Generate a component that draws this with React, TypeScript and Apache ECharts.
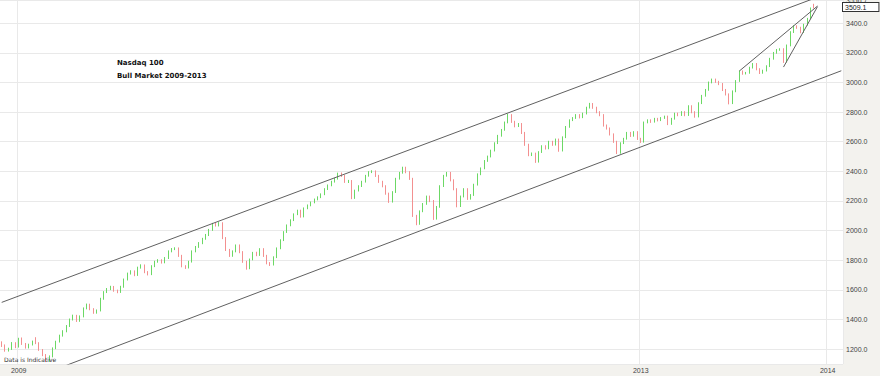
import React, { useEffect, useRef } from 'react';
import * as echarts from 'echarts';

// [open, close, low, high] per bar
const candlesA = [
  [1240,1225,1214,1252],[1225,1190,1182,1231],[1190,1200,1183,1209],[1200,1240,1194,1247],
  [1240,1215,1206,1246],[1215,1270,1210,1276],[1270,1235,1228,1278],[1235,1210,1203,1241],
  [1210,1230,1204,1236],[1230,1250,1224,1257],[1275,1240,1233,1280],[1240,1195,1188,1246],
  [1195,1160,1152,1200],[1160,1120,1112,1166],[1120,1150,1113,1157],[1150,1205,1144,1211],
  [1205,1250,1199,1256],[1250,1290,1244,1297],[1290,1320,1284,1327],[1320,1355,1313,1362],
  [1355,1400,1349,1406],[1400,1425,1393,1432],[1425,1390,1383,1431],[1390,1420,1384,1427],
  [1420,1475,1414,1481],[1475,1500,1468,1507],[1500,1470,1462,1506],[1470,1445,1438,1476],
  [1445,1460,1439,1467],[1460,1540,1454,1546],[1540,1585,1533,1591],[1585,1605,1578,1612],
  [1605,1620,1598,1627],[1620,1595,1587,1626],[1595,1585,1577,1601],[1585,1620,1579,1627],
  [1620,1670,1614,1676],[1670,1710,1663,1716],[1710,1725,1703,1732],[1725,1700,1692,1731],
  [1700,1750,1694,1756],[1750,1765,1743,1772],[1765,1720,1712,1771],[1720,1705,1697,1726],
  [1705,1760,1699,1766],[1760,1790,1753,1796],[1790,1800,1783,1807],[1800,1785,1777,1806],
  [1785,1815,1779,1821],[1815,1860,1808,1866],[1860,1875,1853,1882],[1875,1880,1868,1887],
  [1880,1830,1822,1886],[1830,1760,1752,1836],[1760,1750,1741,1766],[1750,1790,1744,1796],
  [1790,1860,1784,1866],[1860,1890,1853,1896],[1890,1915,1883,1922],[1915,1945,1908,1951],
  [1945,1970,1938,1977],[1970,2005,1963,2011],[2005,2045,1998,2052],
];
const candlesB = [
  [2045,2035,2027,2052],[2035,2050,2028,2057],[2050,1950,1942,2056],[1950,1870,1862,1956],
  [1870,1830,1822,1876],[1830,1860,1823,1866],[1860,1900,1853,1906],[1900,1855,1847,1906],
  [1855,1790,1782,1861],[1790,1745,1736,1796],[1745,1805,1739,1811],[1805,1850,1799,1856],
  [1850,1835,1827,1857],[1835,1875,1829,1881],[1875,1830,1822,1881],[1830,1780,1772,1836],
  [1780,1770,1761,1787],[1770,1820,1764,1826],[1820,1880,1814,1886],[1880,1935,1874,1941],
  [1935,1990,1929,1996],[1990,2035,1984,2041],[2035,2070,2029,2076],[2070,2110,2064,2116],
  [2110,2135,2104,2141],[2135,2095,2087,2141],[2095,2150,2089,2156],[2150,2170,2144,2176],
  [2170,2190,2164,2196],[2190,2210,2184,2216],[2210,2225,2204,2231],[2225,2245,2219,2251],
  [2245,2280,2239,2286],[2280,2305,2274,2311],[2305,2330,2299,2336],[2330,2350,2324,2356],
  [2350,2385,2344,2391],[2385,2370,2362,2392],[2370,2330,2322,2376],[2330,2335,2321,2342],
  [2335,2220,2212,2341],[2220,2270,2214,2276],[2270,2300,2264,2306],[2300,2330,2294,2336],
  [2330,2370,2324,2376],[2370,2395,2364,2401],[2395,2400,2388,2407],[2400,2370,2362,2406],
  [2370,2330,2322,2376],[2330,2300,2292,2336],[2300,2250,2242,2306],[2250,2195,2187,2256],
  [2195,2260,2189,2266],[2260,2350,2254,2356],[2350,2390,2344,2396],[2390,2425,2384,2431],
  [2425,2395,2387,2431],[2395,2350,2342,2401],[2350,2100,2092,2356],[2100,2045,2036,2106],
];
const candlesC = [
  [2045,2130,2039,2136],[2130,2180,2124,2186],[2180,2230,2174,2236],[2230,2200,2192,2236],
  [2200,2080,2072,2206],[2080,2160,2074,2166],[2160,2300,2154,2306],[2300,2370,2294,2376],
  [2370,2390,2364,2396],[2390,2340,2332,2396],[2340,2280,2272,2346],[2280,2165,2157,2286],
  [2165,2230,2159,2236],[2230,2280,2224,2286],[2280,2215,2207,2286],[2215,2240,2209,2246],
  [2240,2310,2234,2316],[2310,2380,2304,2386],[2380,2420,2374,2426],[2420,2470,2414,2476],
  [2470,2500,2464,2506],[2500,2540,2494,2546],[2540,2590,2534,2596],[2590,2640,2584,2646],
  [2640,2680,2634,2686],[2680,2730,2674,2736],[2730,2780,2724,2788],[2780,2735,2727,2786],
  [2735,2705,2697,2741],[2705,2720,2699,2726],[2720,2660,2652,2726],[2660,2580,2572,2666],
  [2580,2510,2502,2586],[2510,2520,2503,2527],[2520,2465,2457,2526],[2465,2530,2459,2536],
  [2530,2570,2524,2576],[2570,2555,2547,2576],[2555,2600,2549,2606],[2600,2580,2572,2606],
  [2580,2615,2574,2621],[2615,2540,2532,2621],[2540,2630,2534,2636],[2630,2700,2624,2706],
  [2700,2745,2694,2751],[2745,2760,2739,2766],[2760,2780,2754,2786],[2780,2765,2757,2786],
  [2765,2790,2759,2796],[2790,2830,2784,2836],[2830,2855,2824,2862],[2855,2830,2822,2861],
  [2830,2800,2792,2836],[2800,2780,2772,2806],[2780,2710,2702,2786],[2710,2690,2682,2716],
  [2690,2650,2642,2696],[2650,2600,2592,2656],[2600,2525,2517,2606],[2525,2590,2519,2596],
  [2590,2620,2584,2626],[2620,2660,2614,2666],[2660,2640,2632,2666],[2640,2665,2634,2671],
  [2665,2620,2612,2671],
];
const candlesD = [
  [2620,2600,2592,2626],[2600,2730,2594,2736],[2730,2745,2724,2751],[2745,2735,2727,2751],
  [2735,2755,2729,2761],[2755,2745,2737,2761],[2745,2760,2739,2766],[2760,2770,2754,2776],
  [2770,2720,2712,2776],[2720,2755,2714,2761],[2755,2790,2749,2796],[2790,2780,2772,2796],
  [2780,2800,2774,2806],[2800,2780,2772,2806],[2780,2840,2774,2846],[2840,2800,2792,2846],
  [2800,2770,2762,2806],[2770,2860,2764,2866],[2860,2910,2854,2916],[2910,2950,2904,2956],
  [2950,3000,2944,3006],[3000,3020,2994,3026],[3020,3005,2997,3026],[3005,2990,2982,3011],
  [2990,2950,2942,2996],[2950,2920,2912,2956],[2920,2860,2852,2926],[2860,2940,2854,2946],
  [2940,3010,2934,3016],[3010,3075,3004,3081],[3075,3060,3052,3081],[3060,3065,3054,3071],
  [3065,3100,3059,3106],[3100,3125,3094,3131],[3125,3090,3082,3131],[3090,3065,3057,3096],
  [3065,3080,3059,3086],[3080,3110,3074,3116],[3110,3160,3104,3166],[3160,3200,3154,3206],
  [3200,3220,3194,3226],[3220,3225,3214,3231],[3225,3140,3132,3231],[3140,3250,3134,3256],
  [3250,3340,3244,3346],[3340,3380,3334,3386],[3380,3370,3362,3386],[3370,3340,3332,3376],
  [3340,3390,3334,3396],[3390,3430,3384,3436],[3430,3500,3428,3506],[3525,3509.1,3500,3531],
];

const totalSlots = 248;
const yearTicks = [
  { index: 5, label: '2009' },
  { index: 188, label: '2013' },
  { index: 243, label: '2014' },
];
const upperChannel = [[0, 1515], [247, 3636]];
const lowerChannel = [[19, 1090], [247, 3079]];
const wedgeUpper = [[217, 3077], [240, 3516]];
const wedgeLower = [[230, 3104], [240, 3512]];
const lastPrice = 3509.1;
const axisMin = 1099;
const axisMax = 3556.7;
const titleLines = ['Nasdaq 100', 'Bull Market 2009-2013'];
const footNote = 'Data is Indicative';

const UP = '#6cd865';
const DOWN = '#f39090';
const GRID = '#e9e9e9';

export default function App() {
  const ref = useRef<HTMLDivElement>(null);
  useEffect(() => {
    if (!ref.current) return;
    const chart = echarts.init(ref.current, null, { renderer: 'svg' });
    const candles = [...candlesA, ...candlesB, ...candlesC, ...candlesD];
    const categories = Array.from({ length: totalSlots }, (_, i) => String(i));
    const tickSet = new Set(yearTicks.map((t) => t.index));
    const tickLabel = new Map(yearTicks.map((t) => [t.index, t.label]));
    const trend = (data: number[][]) => ({
      type: 'line',
      data,
      symbol: 'none',
      silent: true,
      z: 5,
      lineStyle: { color: '#606060', width: 1 },
    });
    chart.setOption({
      animation: false,
      backgroundColor: '#f3f2ee',
      grid: {
        left: 0, right: 37, top: 0, bottom: 12,
        outerBoundsMode: 'none',
        containLabel: false,
        show: true, backgroundColor: '#ffffff', borderWidth: 0,
      },
      xAxis: {
        type: 'category',
        data: categories,
        boundaryGap: true,
        axisLine: { show: false },
        axisTick: { show: false },
        axisLabel: {
          interval: (idx: number) => tickSet.has(idx),
          formatter: (_v: string, idx: number) => tickLabel.get(idx) || '',
          fontSize: 7,
          color: '#444',
          margin: 3,
          fontFamily: '"Liberation Sans", Arial, sans-serif',
        },
        splitLine: { show: true, interval: (idx: number) => tickSet.has(idx), lineStyle: { color: GRID } },
      },
      yAxis: {
        type: 'value',
        position: 'right',
        min: axisMin,
        max: axisMax,
        splitNumber: 12,
        minInterval: 200,
        maxInterval: 200,
        axisLine: { show: false },
        axisTick: { show: false },
        axisLabel: {
          formatter: (v: number) => v.toFixed(1),
          fontSize: 7,
          color: '#444',
          margin: 3,
          showMinLabel: false,
          showMaxLabel: true,
          verticalAlignMaxLabel: 'middle',
          fontFamily: '"Liberation Sans", Arial, sans-serif',
        },
        splitLine: { show: true, lineStyle: { color: GRID } },
      },
      graphic: [
        {
          type: 'text', x: 117, y: 63, silent: true,
          style: { text: titleLines[0], font: 'bold 7px "DejaVu Sans"', fill: '#111', verticalAlign: 'middle' },
        },
        {
          type: 'text', x: 117, y: 76, silent: true,
          style: { text: titleLines[1], font: 'bold 7px "DejaVu Sans"', fill: '#111', verticalAlign: 'middle' },
        },
        {
          type: 'text', x: 4, y: 359, silent: true, z: 10,
          style: { text: footNote, font: '6px "DejaVu Sans"', fill: '#333', verticalAlign: 'middle' },
        },
      ],
      series: [
        {
          type: 'candlestick',
          data: candles,
          barWidth: 1,
          z: 3,
          itemStyle: { color: UP, color0: DOWN, borderColor: UP, borderColor0: DOWN, borderWidth: 1 },
          markLine: {
            silent: true,
            symbol: 'none',
            data: [{ yAxis: lastPrice }],
            lineStyle: { color: 'rgba(0,0,0,0)' },
            label: {
              position: 'end',
              distance: 0,
              formatter: lastPrice.toFixed(1),
              backgroundColor: '#ffffff',
              borderColor: '#333',
              borderWidth: 1,
              padding: [1, 12, 0, 2],
              fontSize: 7,
              color: '#222',
              fontFamily: '"Liberation Sans", Arial, sans-serif',
            },
          },
        },
        trend(upperChannel),
        trend(lowerChannel),
        trend(wedgeUpper),
        trend(wedgeLower),
      ],
    });
    return () => chart.dispose();
  }, []);
  return <div ref={ref} style={{ position: 'fixed', left: 0, top: 0, width: 880, height: 376 }} />;
}
